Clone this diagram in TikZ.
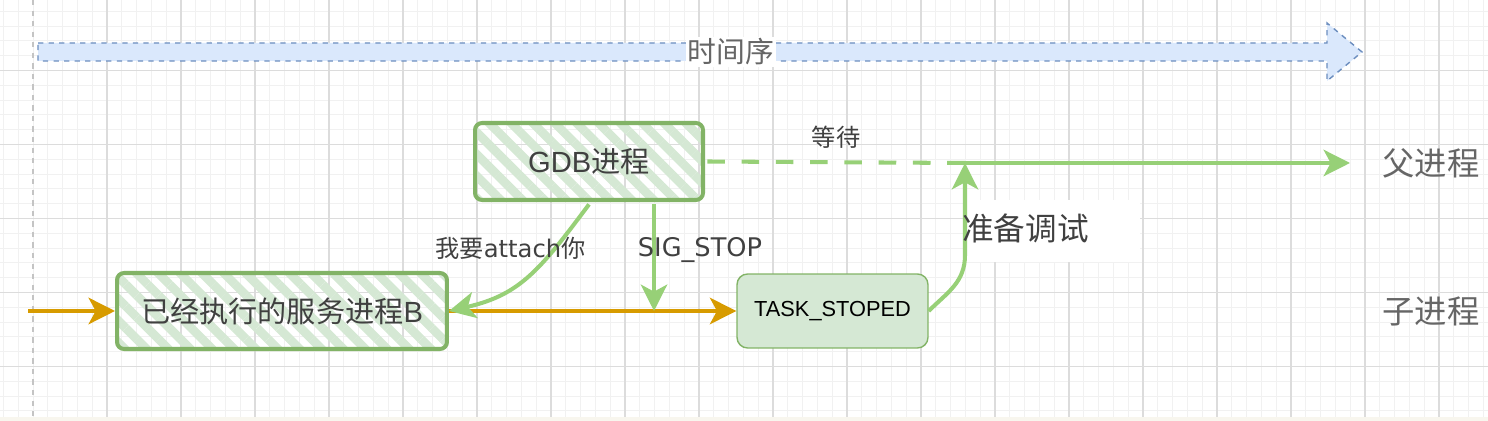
\documentclass[tikz,border=0pt]{standalone}
\usepackage{fontspec}
\setmainfont{Liberation Sans}
\newfontfamily\cjk{Noto Sans CJK SC}
\newfontfamily\hand{DejaVu Sans}
\usetikzlibrary{arrows.meta, patterns.meta, positioning, calc}
\definecolor{gridmajor}{HTML}{DCDCDC}
\definecolor{gridminor}{HTML}{F1F1F1}
\definecolor{pageedge}{HTML}{C4C4C4}
\definecolor{beige}{HTML}{F8F6EE}
\definecolor{boxgreen}{HTML}{82B366}
\definecolor{hatchgreen}{HTML}{D5E8D4}
\definecolor{linkgreen}{HTML}{97D077}
\definecolor{runorange}{HTML}{D79B00}
\definecolor{timefill}{HTML}{DAE8FC}
\definecolor{timeline}{HTML}{6C8EBF}
\definecolor{labelgray}{HTML}{666666}
\definecolor{textgray}{HTML}{404040}
\tikzset{>={Stealth[length=15pt, width=15pt, inset=4pt]}}
\tikzset{
    sketchbox/.style={draw=boxgreen, line width=2.3pt, rounded corners=4pt,
        pattern={Lines[angle=-45, distance=8.8pt, line width=5pt]}, pattern color=hatchgreen,
        text=textgray, font=\fontsize{16.6}{20}\selectfont, inner sep=0pt},
    statebox/.style={draw=boxgreen, line width=0.8pt, fill=hatchgreen, rounded corners=6pt,
        text=black, font=\fontsize{12.4}{14}\selectfont, inner sep=0pt},
    run/.style={->, draw=runorange, line width=2.5pt},
    signal/.style={->, draw=linkgreen, line width=2.3pt},
    rowlabel/.style={text=labelgray, font=\cjk\fontsize{18.4}{22}\selectfont},
    edgelabel/.style={text=textgray, font=\cjk\fontsize{13.8}{16}\selectfont, inner sep=1pt},
}

\begin{document}
\begin{tikzpicture}[x=0.02cm, y=-0.02cm]
    \useasboundingbox (0, 0) rectangle (1488, 421);
    % background grid
    \foreach \i in {-2,...,98}
        \draw[gridminor, line width=0.5pt](33+14.8*\i, 0)--(33+14.8*\i, 417);
    \foreach \j in {1,...,28}
        \draw[gridminor, line width=0.5pt](0, -3.5+14.8*\j)--(1488, -3.5+14.8*\j);
    \foreach \i in {1,...,19}
        \draw[gridmajor, line width=0.6pt](33+74*\i, 0)--(33+74*\i, 417);
    \foreach \j in {1,...,5}
        \draw[gridmajor, line width=0.6pt](0, -3.5+74*\j)--(1488, -3.5+74*\j);
    \draw[pageedge, dashed, line width=0.6pt](33, 0)--(33, 417);
    \fill[beige](0, 417) rectangle (1488, 421);

    % time arrow
    \draw[timeline, fill=timefill, dashed, line width=0.8pt](38, 43)--(1327, 43)--(1327, 23)--(1362, 52)
        --(1327, 81)--(1327, 61)--(38, 61)--cycle;
    \node[fill=white, inner sep=1pt, text=labelgray, font=\cjk\fontsize{16.4}{18}\selectfont](time) at (731, 52){时间序};

    % processes
    \node[sketchbox, minimum width=4.56cm, minimum height=1.54cm](gdb) at (589, 161.5){GDB{\cjk 进程}};
    \node[sketchbox, minimum width=6.6cm, minimum height=1.52cm](svc) at (282, 311){{\cjk 已经执行的服务进程}B};
    \node[statebox, minimum width=3.82cm, minimum height=1.48cm](task) at (832.5, 311){TASK\_STOPED};
    \node[rowlabel](parent) at (1431, 163){父进程};
    \node[rowlabel](child) at (1431, 311){子进程};

    \coordinate (start) at (28, 311);
    \coordinate (sig) at (654, 311);
    \coordinate (wait) at (965, 163);
    \coordinate (pend) at (1350, 163);

    % child timeline
    \draw[run](start)--(svc.west);
    \draw[run](svc.east)--(task.west);

    % gdb signals
    \draw[signal](gdb.south) .. controls (540, 270) and (520, 295) .. (svc.east)
        node[edgelabel, pos=0.25, shift={(-46, 2)}]{我要{\hand attach}你};
    \draw[signal](gdb.south -| sig)--(sig)
        node[edgelabel, midway, shift={(46, -8)}, font=\hand\fontsize{14.6}{16}\selectfont]{SIG\_STOP};

    % parent timeline
    \draw[signal, -, dash pattern=on 10pt off 9.5pt](gdb.east)--(wait) node[edgelabel, midway, above=6pt]{等待};
    \fill[white](967, 200) rectangle (1140, 262);
    \draw[signal](task.east) .. controls (948, 292) and (965, 282) .. (965, 255)--(wait);
    \node[edgelabel, anchor=west, font=\cjk\fontsize{18}{20}\selectfont, inner sep=0pt](prep) at (962, 228){准备调试};
    \draw[signal](wait)--(pend);
\end{tikzpicture}
\end{document}
